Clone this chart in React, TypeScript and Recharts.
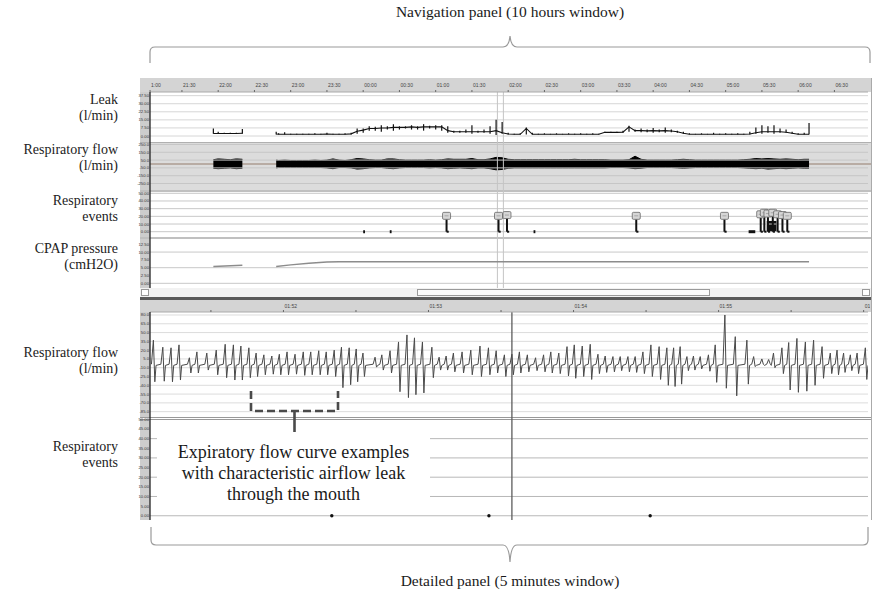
import React from "react";
import {
  ComposedChart,
  Line,
  Area,
  Scatter,
  XAxis,
  YAxis,
  ErrorBar,
  ReferenceLine,
  ReferenceArea,
} from "recharts";

const SERIF = "'Liberation Serif', 'Times New Roman', serif";
const SANS = "'Liberation Sans', Arial, sans-serif";

// ---------- navigation panel: minutes after 21:00 ----------
const navTimes = [
  56, 60, 65, 70, 75, 80, 94, 108,
  110, 115, 120, 125, 130, 135, 140, 145, 150, 155,
  160, 165, 170, 175, 180, 185, 190, 195, 200, 205,
  210, 215, 220, 225, 230, 235, 240, 245, 250, 255,
  260, 265, 270, 275, 280, 285, 290, 295, 300, 305,
  310, 315, 320, 325, 330, 335, 340, 345, 350, 355,
  360, 365, 370, 375, 380, 385, 390, 395, 400, 405,
  410, 415, 420, 425, 430, 435, 440, 445, 450, 455,
  460, 465, 470, 475, 480, 485, 490, 495, 500, 505,
  510, 515, 520, 525, 530, 535, 540, 545, 549,
];
// leak trace level and the spread of its spikes (l/min)
const leakLevel = [
  2.3, 2.3, 2.3, 2.3, 2.3, 2.5, null, 1.8,
  1.6, 1.6, 1.6, 1.6, 1.6, 1.6, 1.6, 1.6, 1.8, 1.6,
  1.6, 1.6, 2, 4.5, 5.5, 7, 7, 7.5, 7.5, 8,
  8, 8, 8.5, 8, 8.5, 8.5, 8.5, 8.5, 5, 4,
  4, 4, 4, 4, 4, 4, 5, 3, 1.8, 1.6,
  1.6, 7, 1.6, 1.6, 1.6, 1.6, 1.6, 1.6, 1.6, 1.6,
  1.6, 1.6, 1.6, 1.6, 3.4, 3.4, 3.4, 3.6, 8.5, 5,
  5, 4.8, 5, 4.8, 5, 4.6, 4, 2.5, 1.6, 1.6,
  1.6, 1.6, 1.6, 1.6, 1.6, 1.6, 1.6, 1.6, 1.8, 3,
  4, 4, 4, 4, 3.5, 2.5, 1.6, 1.6, 1.6,
];
const leakLow = [
  2, 2, 2, 2, 2, 2, null, 1.5,
  1.5, 1.5, 1.5, 1.5, 1.5, 1.5, 1.5, 1.5, 1.5, 1.5,
  1.5, 1.5, 1.5, 2, 3, 5, 5, 4, 6, 5,
  6, 7, 6, 6, 5, 7, 6, 5, 3, 3,
  3, 3, 2, 3, 3, 2, 1, 2, 1.5, 1.5,
  1.5, 1.5, 1.5, 1.5, 1.5, 1.5, 1.5, 1.5, 1.5, 1.5,
  1.5, 1.5, 1.5, 1.5, 3, 3, 3, 3, 4, 4,
  3.5, 3.5, 3, 3.5, 3, 3.5, 3, 2, 1.5, 1.5,
  1.5, 1.5, 1.5, 1.5, 1.5, 1.5, 1.5, 1.5, 1.5, 2,
  2, 3, 2, 3, 3, 2, 1.5, 1.5, 1.5,
];
const leakHigh = [
  7, 4, 3, 3, 3, 6.5, null, 4,
  2.5, 3.5, 2, 2, 2, 2, 2.5, 2, 3, 2,
  2, 2.5, 3, 7, 7, 9, 8.5, 10, 9, 11,
  9, 9, 10, 9, 11, 9.5, 10, 10, 9, 5,
  5, 6, 10, 5, 6, 9, 15, 13, 3, 2,
  2.5, 8, 3, 2, 2.5, 2, 2.5, 2, 2.5, 2,
  2.5, 2, 2.5, 2, 4, 4, 4, 5, 9.5, 6,
  7, 6, 7.5, 6, 8, 6, 5, 4, 2.5, 2,
  2.5, 2, 3, 2, 2.5, 2, 2.5, 2, 4, 8,
  10, 9, 10, 7, 6, 4, 2.5, 3, 12,
];
// respiratory flow envelope (l/min)
const flowLow = [
  -55, -60, -55, -50, -60, -55, null, -50,
  -45, -45, -45, -45, -45, -45, -45, -45, -50, -60,
  -45, -45, -50, -65, -60, -50, -45, -45, -55, -60,
  -50, -45, -45, -45, -45, -50, -45, -50, -60, -55,
  -50, -55, -60, -50, -50, -60, -75, -70, -55, -50,
  -50, -50, -50, -50, -50, -50, -50, -50, -50, -50,
  -50, -50, -50, -50, -50, -45, -45, -45, -50, -60,
  -55, -45, -45, -45, -45, -45, -50, -55, -50, -45,
  -45, -45, -45, -45, -45, -45, -45, -50, -55, -60,
  -55, -65, -60, -55, -60, -55, -50, -55, -55,
];
const flowHigh = [
  55, 65, 60, 55, 65, 60, null, 50,
  45, 50, 45, 45, 45, 45, 50, 45, 50, 65,
  50, 45, 55, 70, 65, 55, 50, 50, 65, 65,
  55, 50, 50, 50, 50, 55, 50, 55, 65, 60,
  60, 60, 70, 55, 55, 65, 85, 80, 60, 55,
  55, 55, 55, 55, 55, 55, 55, 55, 55, 60,
  55, 55, 55, 55, 55, 50, 50, 50, 55, 100,
  60, 50, 50, 50, 50, 50, 55, 60, 55, 50,
  50, 50, 50, 50, 50, 50, 50, 55, 60, 70,
  65, 70, 65, 60, 65, 60, 55, 60, 60,
];

const cpapTimes = [56, 80, 94, 108, 120, 135, 150, 160, 549];
const cpapValues = [5.4, 5.8, null, 5.4, 5.9, 6.4, 6.8, 6.9, 6.9];

// respiratory events: level 0 = short mark on baseline, otherwise flag
const eventTimes = [180, 202, 249, 292, 299, 321, 406, 479, 499, 509, 512, 515, 519, 523, 527, 531];
const eventLevels = [0, 0, 20, 20, 21, 0, 20, 20, 0, 22, 24, 23, 24, 22, 21, 20];
const eventSpans = [1.5, 1.5, 0, 0, 0, 1.5, 0, 0, 5.5, 0, 0, 0, 0, 0, 0, 0];
const clusterFrom = 514;
const clusterTo = 522;
const clusterLevel = 14;

const navTickMinutes = [3.6, 30, 60, 90, 120, 150, 180, 210, 240, 270, 300, 330, 360, 390, 420, 450, 480, 510, 540, 570];
const navTickLabels = [
  "1:00", "21:30", "22:00", "22:30", "23:00", "23:30", "00:00", "00:30", "01:00", "01:30",
  "02:00", "02:30", "03:00", "03:30", "04:00", "04:30", "05:00", "05:30", "06:00", "06:30",
];
const windowStart = 291.08;
const windowEnd = 296.03;

const leakTicks = [0, 7.5, 15, 22.5, 30, 37.5];
const navFlowTicks = [-250, -150, -50, 50, 150, 250];
const eventTicks = [0, 10, 20, 30, 40, 50];
const cpapTicks = [0, 2.5, 5, 7.5, 10, 12.5];
const cpapGrid = [0, 5, 10];

// ---------- detailed panel: seconds after 01:51:00 ----------
const breathTimes = [
  6.2, 10.1, 13.5, 16.8, 21.1, 24.2, 28.3, 32.2, 35.9, 39.3,
  42.4, 45.7, 48.7, 51.9, 55.2, 58.3, 61.5, 64.8, 68.2, 71.3,
  74.6, 77.7, 81.0, 84.0, 87.2, 90.1, 92.9, 97.9, 100.7, 104.1,
  107.6, 111.1, 114.2, 117.5, 121.4, 124.4, 127.3, 130.3, 133.9, 137.5,
  141.3, 144.8, 148.0, 151.4, 154.5, 157.6, 160.9, 164.3, 167.6, 170.6,
  173.9, 177.3, 180.3, 183.6, 186.9, 190.1, 193.1, 196.3, 199.3, 202.5,
  205.5, 208.7, 212.0, 215.4, 218.6, 221.4, 224.1, 226.9, 229.6, 232.4,
  235.8, 238.6, 242.6, 246.9, 251.7, 254.5, 257.9, 260.7, 262.7, 266.2,
  269.0, 272.4, 275.9, 279.3, 282.8, 286.2, 289.0, 291.7, 294.5, 297.3,
  300.7,
];
const breathPeaks = [
  37, 25, 24, 29, 7, 17, 15, 20, 30, 29,
  27, 24, 15, 12, 10, 13, 17, 13, 17, 17,
  19, 17, 20, 25, 24, 22, 15, 8, 12, 19,
  34, 46, 41, 34, 25, 8, 10, 15, 17, 20,
  27, 24, 19, 12, 13, 17, 12, 7, 12, 17,
  15, 26, 29, 27, 30, 13, 10, 9, 9, 9,
  9, 17, 29, 26, 24, 24, 26, 9, 10, 9,
  12, 29, 80, 43, 37, 9, 5, 4, 15, 24,
  33, 40, 34, 37, 26, 15, 20, 15, 12, 15,
  24,
];
const breathTroughs = [
  -34, -33, -34, -31, -19, -19, -14, -22, -27, -31,
  -31, -27, -25, -22, -21, -22, -22, -21, -23, -22,
  -22, -22, -25, -44, -39, -34, -25, -9, -14, -19,
  -51, -61, -56, -53, -27, -14, -14, -17, -19, -22,
  -25, -22, -19, -25, -22, -19, -17, -15, -17, -19,
  -20, -24, -28, -25, -30, -20, -18, -17, -15, -17,
  -18, -20, -25, -30, -40, -42, -38, -15, -14, -12,
  -16, -35, -45, -58, -38, -8, -4, -3, -10, -20,
  -48, -52, -50, -40, -28, -20, -22, -18, -15, -20,
  -30,
];
const REST = -4;
const PLATEAU = -6;

const detailEventTimes = [80, 145, 211.7];
const detailCursor = 154.5;
const detailTickSeconds = [30, 60, 90, 120, 150, 180, 210, 240, 270, 300];
const detailTickLabels = ["", "01:52", "", "01:53", "", "01:54", "", "01:55", "", "01:56"];
const detailFlowTicks = [-85, -70, -55, -40, -25, -10, 5, 20, 35, 50, 65, 80];
const detailEventTicks = [0, 5, 10, 15, 20, 25, 30, 35, 40, 45, 50];
const detailEventGrid = [0, 10, 20, 30, 40];

const navDomain = [3.56, 597.8];
const detailDomain = [4.8, 301.8];
const CHART_LEFT = 134;
const CHART_W = 736;
const AXIS_W = 16;

function YTick(props: any) {
  const { x, y, payload, digits } = props;
  return (
    <text x={x} y={y} dy={1.5} textAnchor="end" fontSize={4.2} fill="#333" fontFamily={SANS}>
      {Number(payload.value).toFixed(digits)}
    </text>
  );
}

function NavTick(props: any) {
  const { x, y, index } = props;
  return (
    <text x={x + 1} y={y - 2} fontSize={5} fill="#444" fontFamily={SANS}>
      {navTickLabels[index]}
    </text>
  );
}

function DetailTick(props: any) {
  const { x, y, index } = props;
  return (
    <text x={x + 1} y={y - 1} fontSize={5} fill="#444" fontFamily={SANS}>
      {detailTickLabels[index]}
    </text>
  );
}

function Flag(props: any) {
  const { cx, cy } = props;
  return (
    <g>
      <rect x={cx - 4} y={cy - 4} width={8} height={7} rx={1.2} fill="#d6d6d6" stroke="#666" strokeWidth={0.8} />
      <line x1={cx - 2} x2={cx + 2} y1={cy - 0.5} y2={cy - 0.5} stroke="#888" strokeWidth={0.6} />
    </g>
  );
}

function Box(p: { l: number; t: number; w: number; h: number; bg: string; style?: any }) {
  return (
    <div
      style={{
        position: "absolute",
        left: p.l,
        top: p.t,
        width: p.w,
        height: p.h,
        background: p.bg,
        boxSizing: "border-box",
        ...p.style,
      }}
    />
  );
}

function SideLabel({ lines, top }: { lines: string[]; top: number }) {
  return (
    <div
      style={{
        position: "absolute",
        left: 0,
        top,
        width: 118,
        textAlign: "right",
        fontFamily: SERIF,
        fontSize: 14,
        lineHeight: "16px",
        color: "#222",
      }}
    >
      {lines.map((l) => (
        <div key={l}>{l}</div>
      ))}
    </div>
  );
}

const chartPos = (top: number): React.CSSProperties => ({ position: "absolute", left: CHART_LEFT, top });
const margin = { top: 0, right: 2, bottom: 0, left: 0 };

export default function App() {
  const navData = navTimes.map((t, i) => ({
    t,
    level: leakLevel[i],
    spread:
      leakLevel[i] === null ? null : [leakLevel[i]! - leakLow[i]!, leakHigh[i]! - leakLevel[i]!],
    flow: flowLow[i] === null ? null : [flowLow[i], flowHigh[i]],
  }));
  const cpapData = cpapTimes.map((t, i) => ({ t, p: cpapValues[i] }));
  const events = eventTimes.map((t, i) => ({ t, v: eventLevels[i], span: eventSpans[i] }));
  const flags = events.filter((e) => e.v > 0);
  const marks = events.filter((e) => e.v === 0);
  const flowPoints = breathTimes.flatMap((t, i) => [
    { s: t - 0.8, v: REST },
    { s: t, v: breathPeaks[i] },
    { s: t + 0.6, v: breathTroughs[i] },
    { s: t + 1.1, v: PLATEAU },
  ]);
  const detailDots = detailEventTimes.map((s) => ({ s, v: 0 }));

  const windowLines = [windowStart, windowEnd].map((x) => (
    <ReferenceLine key={x} x={x} stroke="#c4c4c4" strokeWidth={1} />
  ));
  const hGrid = (vals: number[], color: string) =>
    vals.map((v) => <ReferenceLine key={"g" + v} y={v} stroke={color} strokeWidth={1} />);
  const yAxis = (domain: number[], ticks: number[], digits: number) => (
    <YAxis
      type="number"
      domain={domain}
      allowDataOverflow
      ticks={ticks}
      interval={0}
      width={AXIS_W}
      tickSize={0.5}
      tickMargin={0.5}
      tickLine={false}
      axisLine={{ stroke: "#222", strokeWidth: 1.3 }}
      tick={(p: any) => <YTick {...p} digits={digits} />}
    />
  );
  const navX = <XAxis hide type="number" dataKey="t" domain={navDomain} allowDataOverflow />;

  return (
    <div style={{ position: "absolute", left: 0, top: 0, width: 874, height: 594, overflow: "hidden", background: "#fff" }}>
      {/* titles */}
      <div style={{ position: "absolute", left: 310, top: 3, width: 400, textAlign: "center", fontFamily: SERIF, fontSize: 15.5, color: "#1a1a1a" }}>
        Navigation panel (10 hours window)
      </div>
      <div style={{ position: "absolute", left: 310, top: 572, width: 400, textAlign: "center", fontFamily: SERIF, fontSize: 15.5, color: "#1a1a1a" }}>
        Detailed panel (5 minutes window)
      </div>

      {/* window frame backgrounds */}
      <Box l={140} t={78} w={732} h={14} bg="#d4d4d4" />
      <Box l={140} t={92} w={10} h={196} bg="#cdcdcd" />
      <Box l={150} t={92} w={722} h={51} bg="#ffffff" />
      <Box l={150} t={143} w={722} h={48} bg="#dcdcdc" />
      <Box l={150} t={163} w={722} h={2} bg="#b8aca4" />
      <Box l={150} t={191} w={722} h={47} bg="#ffffff" />
      <Box l={150} t={238} w={722} h={50} bg="#ffffff" />
      <Box l={140} t={142} w={732} h={1} bg="#b0b0b0" />
      <Box l={140} t={190} w={732} h={2} bg="#c0c0c0" />
      <Box l={140} t={237} w={732} h={2} bg="#c0c0c0" />
      <Box l={140} t={288} w={732} h={9} bg="#f2f2f2" />
      <Box l={141} t={289} w={8} h={7} bg="#fff" style={{ border: "1px solid #999" }} />
      <Box l={417} t={289} w={293} h={7} bg="#fbfbfb" style={{ border: "1px solid #9a9a9a" }} />
      <Box l={862} t={289} w={8} h={7} bg="#fff" style={{ border: "1px solid #999" }} />
      <Box l={140} t={297} w={732} h={3} bg="#5a5a5a" />
      <Box l={140} t={300} w={732} h={12} bg="#d4d4d4" />
      <Box l={140} t={312} w={10} h={208} bg="#cdcdcd" />
      <Box l={150} t={312} w={722} h={106} bg="#ffffff" />
      <Box l={140} t={417} w={732} h={3} bg="#fff" style={{ borderTop: "1px solid #999", borderBottom: "1px solid #999" }} />
      <Box l={150} t={420} w={722} h={100} bg="#ffffff" />
      <Box l={871} t={78} w={1} h={442} bg="#aaa" />

      {/* left labels */}
      <SideLabel lines={["Leak", "(l/min)"]} top={92} />
      <SideLabel lines={["Respiratory flow", "(l/min)"]} top={142} />
      <SideLabel lines={["Respiratory", "events"]} top={193} />
      <SideLabel lines={["CPAP pressure", "(cmH2O)"]} top={241} />
      <SideLabel lines={["Respiratory flow", "(l/min)"]} top={345} />
      <SideLabel lines={["Respiratory", "events"]} top={439} />

      {/* leak + time header */}
      <div style={chartPos(78)}>
        <ComposedChart width={CHART_W} height={65} data={navData} margin={margin}>
          <XAxis
            type="number"
            dataKey="t"
            orientation="top"
            height={14}
            domain={navDomain}
            allowDataOverflow
            ticks={navTickMinutes}
            interval={0}
            tickSize={2}
            tickMargin={1}
            tickLine={{ stroke: "#666" }}
            axisLine={{ stroke: "#aaa" }}
            tick={<NavTick />}
          />
          {yAxis([-6.5, 40.9], leakTicks, 2)}
          {hGrid(leakTicks, "#d6d6d6")}
          {windowLines}
          <Line
            dataKey="level"
            type="linear"
            stroke="#111"
            strokeWidth={1.1}
            dot={false}
            activeDot={false}
            isAnimationActive={false}
          >
            <ErrorBar dataKey="spread" direction="y" width={0} stroke="#111" strokeWidth={1.2} isAnimationActive={false} />
          </Line>
        </ComposedChart>
      </div>

      {/* respiratory flow (navigation) */}
      <div style={chartPos(143)}>
        <ComposedChart width={CHART_W} height={48} data={navData} margin={margin}>
          {navX}
          {yAxis([-346, 269], navFlowTicks, 1)}
          {hGrid(navFlowTicks, "#c6c6c6")}
          {windowLines}
          <Area
            dataKey="flow"
            stroke="#000"
            strokeWidth={1}
            fill="#000"
            fillOpacity={1}
            isAnimationActive={false}
            dot={false}
            activeDot={false}
          />
        </ComposedChart>
      </div>

      {/* respiratory events (navigation) */}
      <div style={chartPos(191)}>
        <ComposedChart width={CHART_W} height={47} data={flags} margin={margin}>
          {navX}
          {yAxis([-8.2, 53], eventTicks, 2)}
          {hGrid(eventTicks, "#c8c8c8")}
          {windowLines}
          <ReferenceArea x1={clusterFrom} x2={clusterTo} y1={0} y2={clusterLevel} fill="#111" fillOpacity={1} stroke="none" />
          {marks.map((e) => (
            <ReferenceLine
              key={"m" + e.t}
              segment={[{ x: e.t, y: 0 }, { x: e.t + e.span, y: 0 }]}
              stroke="#111"
              strokeWidth={3}
            />
          ))}
          {flags.map((e) => (
            <ReferenceLine
              key={"s" + e.t}
              segment={[{ x: e.t, y: 0 }, { x: e.t, y: e.v - 4 }]}
              stroke="#111"
              strokeWidth={2}
            />
          ))}
          {flags.map((e) => (
            <ReferenceLine
              key={"f" + e.t}
              segment={[{ x: e.t, y: 0 }, { x: e.t + 1.8, y: 0 }]}
              stroke="#111"
              strokeWidth={2}
            />
          ))}
          <Scatter data={flags} dataKey="v" isAnimationActive={false} shape={(p: any) => <Flag {...p} />} />
        </ComposedChart>
      </div>

      {/* CPAP pressure */}
      <div style={chartPos(238)}>
        <ComposedChart width={CHART_W} height={50} data={cpapData} margin={margin}>
          {navX}
          {yAxis([-1.5, 14.5], cpapTicks, 2)}
          {hGrid(cpapGrid, "#c8c8c8")}
          {windowLines}
          <Line
            dataKey="p"
            type="linear"
            stroke="#8c8c8c"
            strokeWidth={1.4}
            dot={false}
            activeDot={false}
            isAnimationActive={false}
          />
        </ComposedChart>
      </div>

      {/* detailed respiratory flow + time header */}
      <div style={chartPos(300)}>
        <ComposedChart width={CHART_W} height={118} data={flowPoints} margin={margin}>
          <XAxis
            type="number"
            dataKey="s"
            orientation="top"
            height={12}
            domain={detailDomain}
            allowDataOverflow
            ticks={detailTickSeconds}
            interval={0}
            tickSize={2}
            tickMargin={1}
            tickLine={{ stroke: "#666" }}
            axisLine={{ stroke: "#aaa" }}
            tick={<DetailTick />}
          />
          {yAxis([-95.8, 85.1], detailFlowTicks, 1)}
          {hGrid(detailFlowTicks, "#dcdcdc")}
          <ReferenceLine x={detailCursor} stroke="#5c5c5c" strokeWidth={1.3} />
          <Line
            dataKey="v"
            type="linear"
            stroke="#4a4a4a"
            strokeWidth={1}
            dot={false}
            activeDot={false}
            isAnimationActive={false}
          />
        </ComposedChart>
      </div>

      {/* detailed respiratory events */}
      <div style={chartPos(418)}>
        <ComposedChart width={CHART_W} height={102} data={detailDots} margin={margin}>
          <XAxis hide type="number" dataKey="s" domain={detailDomain} allowDataOverflow />
          {yAxis([-2.2, 50.7], detailEventTicks, 2)}
          {hGrid(detailEventGrid, "#b8b8b8")}
          <ReferenceLine x={detailCursor} stroke="#5c5c5c" strokeWidth={1.3} />
          <Scatter
            data={detailDots}
            dataKey="v"
            isAnimationActive={false}
            shape={(p: any) => <circle cx={p.cx} cy={p.cy} r={1.7} fill="#111" />}
          />
        </ComposedChart>
      </div>

      {/* annotation text */}
      <div
        style={{
          position: "absolute",
          left: 157,
          top: 434,
          width: 273,
          height: 72,
          background: "#fff",
          textAlign: "center",
          fontFamily: SERIF,
          fontSize: 18,
          lineHeight: "21px",
          color: "#1a1a1a",
          paddingTop: 8,
          boxSizing: "border-box",
        }}
      >
        <div>Expiratory flow curve examples</div>
        <div>with characteristic airflow leak</div>
        <div>through the mouth</div>
      </div>

      {/* braces and dashed bracket */}
      <svg width={874} height={594} style={{ position: "absolute", left: 0, top: 0, pointerEvents: "none" }}>
        <path
          d="M150,63 L150,52 Q150,47 155,47 L503,47 Q509,47 510,36 Q511,47 517,47 L865,47 Q870,47 870,52 L870,63"
          fill="none"
          stroke="#9a9a9a"
          strokeWidth={1.2}
        />
        <path
          d="M151,527 L151,540 Q151,545 156,545 L503,545 Q509,545 510,562 Q511,545 517,545 L863,545 Q868,545 868,540 L868,527"
          fill="none"
          stroke="#9a9a9a"
          strokeWidth={1.2}
        />
        <path d="M251,391 L251,411 L338,411 L338,391" fill="none" stroke="#4a4a4a" strokeWidth={2.6} strokeDasharray="8 4" />
        <path d="M294.5,412 L294.5,432" fill="none" stroke="#4a4a4a" strokeWidth={2.6} />
      </svg>
    </div>
  );
}
